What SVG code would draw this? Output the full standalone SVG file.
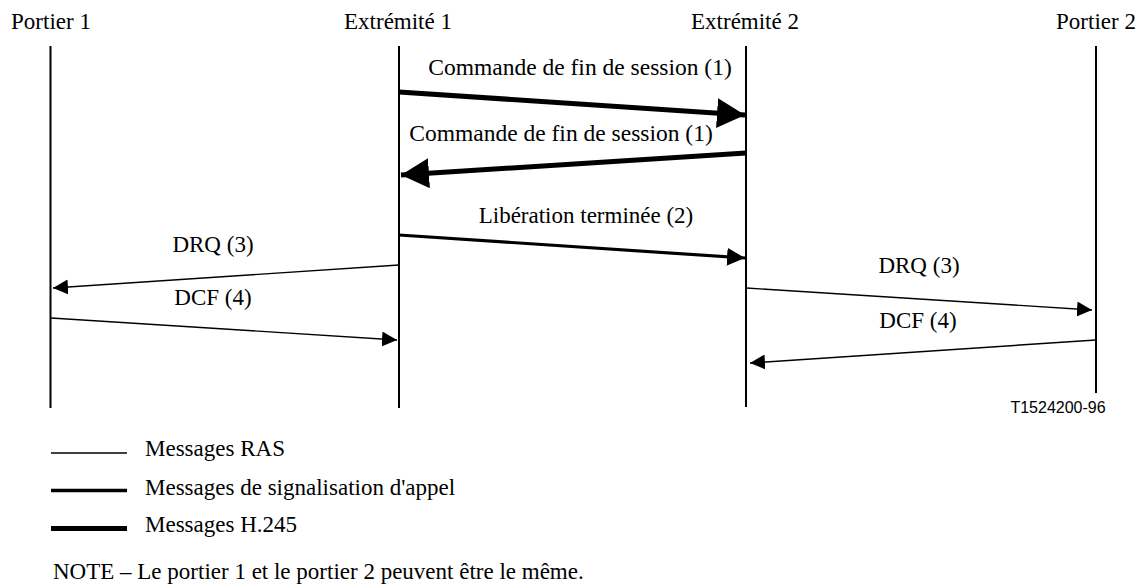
<svg xmlns="http://www.w3.org/2000/svg" width="1144" height="587" viewBox="0 0 1144 587">
<style>
text{font-family:"Liberation Serif","Times New Roman",serif;font-size:23px;fill:#000}
.mid{text-anchor:middle}
.lbl{font-size:23.5px}
.code{font-family:"Liberation Sans",Arial,sans-serif;font-size:16px}
.life{stroke:#000;stroke-width:2;fill:none}
.h245{stroke:#000;stroke-width:5;fill:none}
.sig{stroke:#000;stroke-width:3.2;fill:none}
.ras{stroke:#000;stroke-width:1.4;fill:none}
</style>
<defs>
<marker id="aH" markerUnits="userSpaceOnUse" markerWidth="30" markerHeight="32" refX="28" refY="15" orient="auto" viewBox="0 0 30 32"><path d="M0,0 L28,15 L0,30 z" fill="#000"/></marker>
<marker id="aS" markerUnits="userSpaceOnUse" markerWidth="20" markerHeight="20" refX="18" refY="9" orient="auto" viewBox="0 0 20 20"><path d="M0,0 L18,9 L0,18 z" fill="#000"/></marker>
<marker id="aR" markerUnits="userSpaceOnUse" markerWidth="17" markerHeight="17" refX="15" refY="7.5" orient="auto" viewBox="0 0 17 17"><path d="M0,0 L15,7.5 L0,15 z" fill="#000"/></marker>
</defs>
<g id="portier1"><text x="51" y="29" class="mid">Portier 1</text><line class="life" x1="50.5" y1="46" x2="50.5" y2="408"/></g>
<g id="extremite1"><text x="398" y="29" class="mid">Extrémité 1</text><line class="life" x1="399" y1="46" x2="399" y2="408"/></g>
<g id="extremite2"><text x="745" y="29" class="mid">Extrémité 2</text><line class="life" x1="746" y1="46" x2="746" y2="407"/></g>
<g id="portier2"><text x="1096" y="29" class="mid">Portier 2</text><line class="life" x1="1096" y1="46" x2="1096" y2="393"/></g>
<g id="connectors">
<line class="h245" x1="399" y1="92" x2="745" y2="115" marker-end="url(#aH)"/>
<text x="580" y="75" class="mid lbl">Commande de fin de session (1)</text>
<line class="h245" x1="746" y1="153" x2="401" y2="175" marker-end="url(#aH)"/>
<text x="561" y="141" class="mid lbl">Commande de fin de session (1)</text>
<line class="sig" x1="399" y1="235" x2="745" y2="258" marker-end="url(#aS)"/>
<text x="586" y="223" class="mid">Libération terminée (2)</text>
<line class="ras" x1="399" y1="265" x2="53" y2="288" marker-end="url(#aR)"/>
<text x="213" y="252" class="mid">DRQ (3)</text>
<line class="ras" x1="51" y1="318" x2="397" y2="340" marker-end="url(#aR)"/>
<text x="213" y="305" class="mid">DCF (4)</text>
<line class="ras" x1="746" y1="288" x2="1092" y2="310" marker-end="url(#aR)"/>
<text x="919" y="273" class="mid">DRQ (3)</text>
<line class="ras" x1="1096" y1="340" x2="750" y2="363" marker-end="url(#aR)"/>
<text x="918" y="328" class="mid">DCF (4)</text>
</g>
<text x="1058" y="413" class="code mid">T1524200-96</text>
<g id="legend">
<line x1="51" y1="453" x2="127" y2="453" stroke="#000" stroke-width="1.6"/>
<text x="145" y="456">Messages RAS</text>
<line x1="51" y1="490.5" x2="127" y2="490.5" stroke="#000" stroke-width="3.3"/>
<text x="145" y="495">Messages de signalisation d'appel</text>
<line x1="51" y1="528.5" x2="127" y2="528.5" stroke="#000" stroke-width="5"/>
<text x="145" y="532">Messages H.245</text>
<text x="53" y="579">NOTE – Le portier 1 et le portier 2 peuvent être le même.</text>
</g>
</svg>
